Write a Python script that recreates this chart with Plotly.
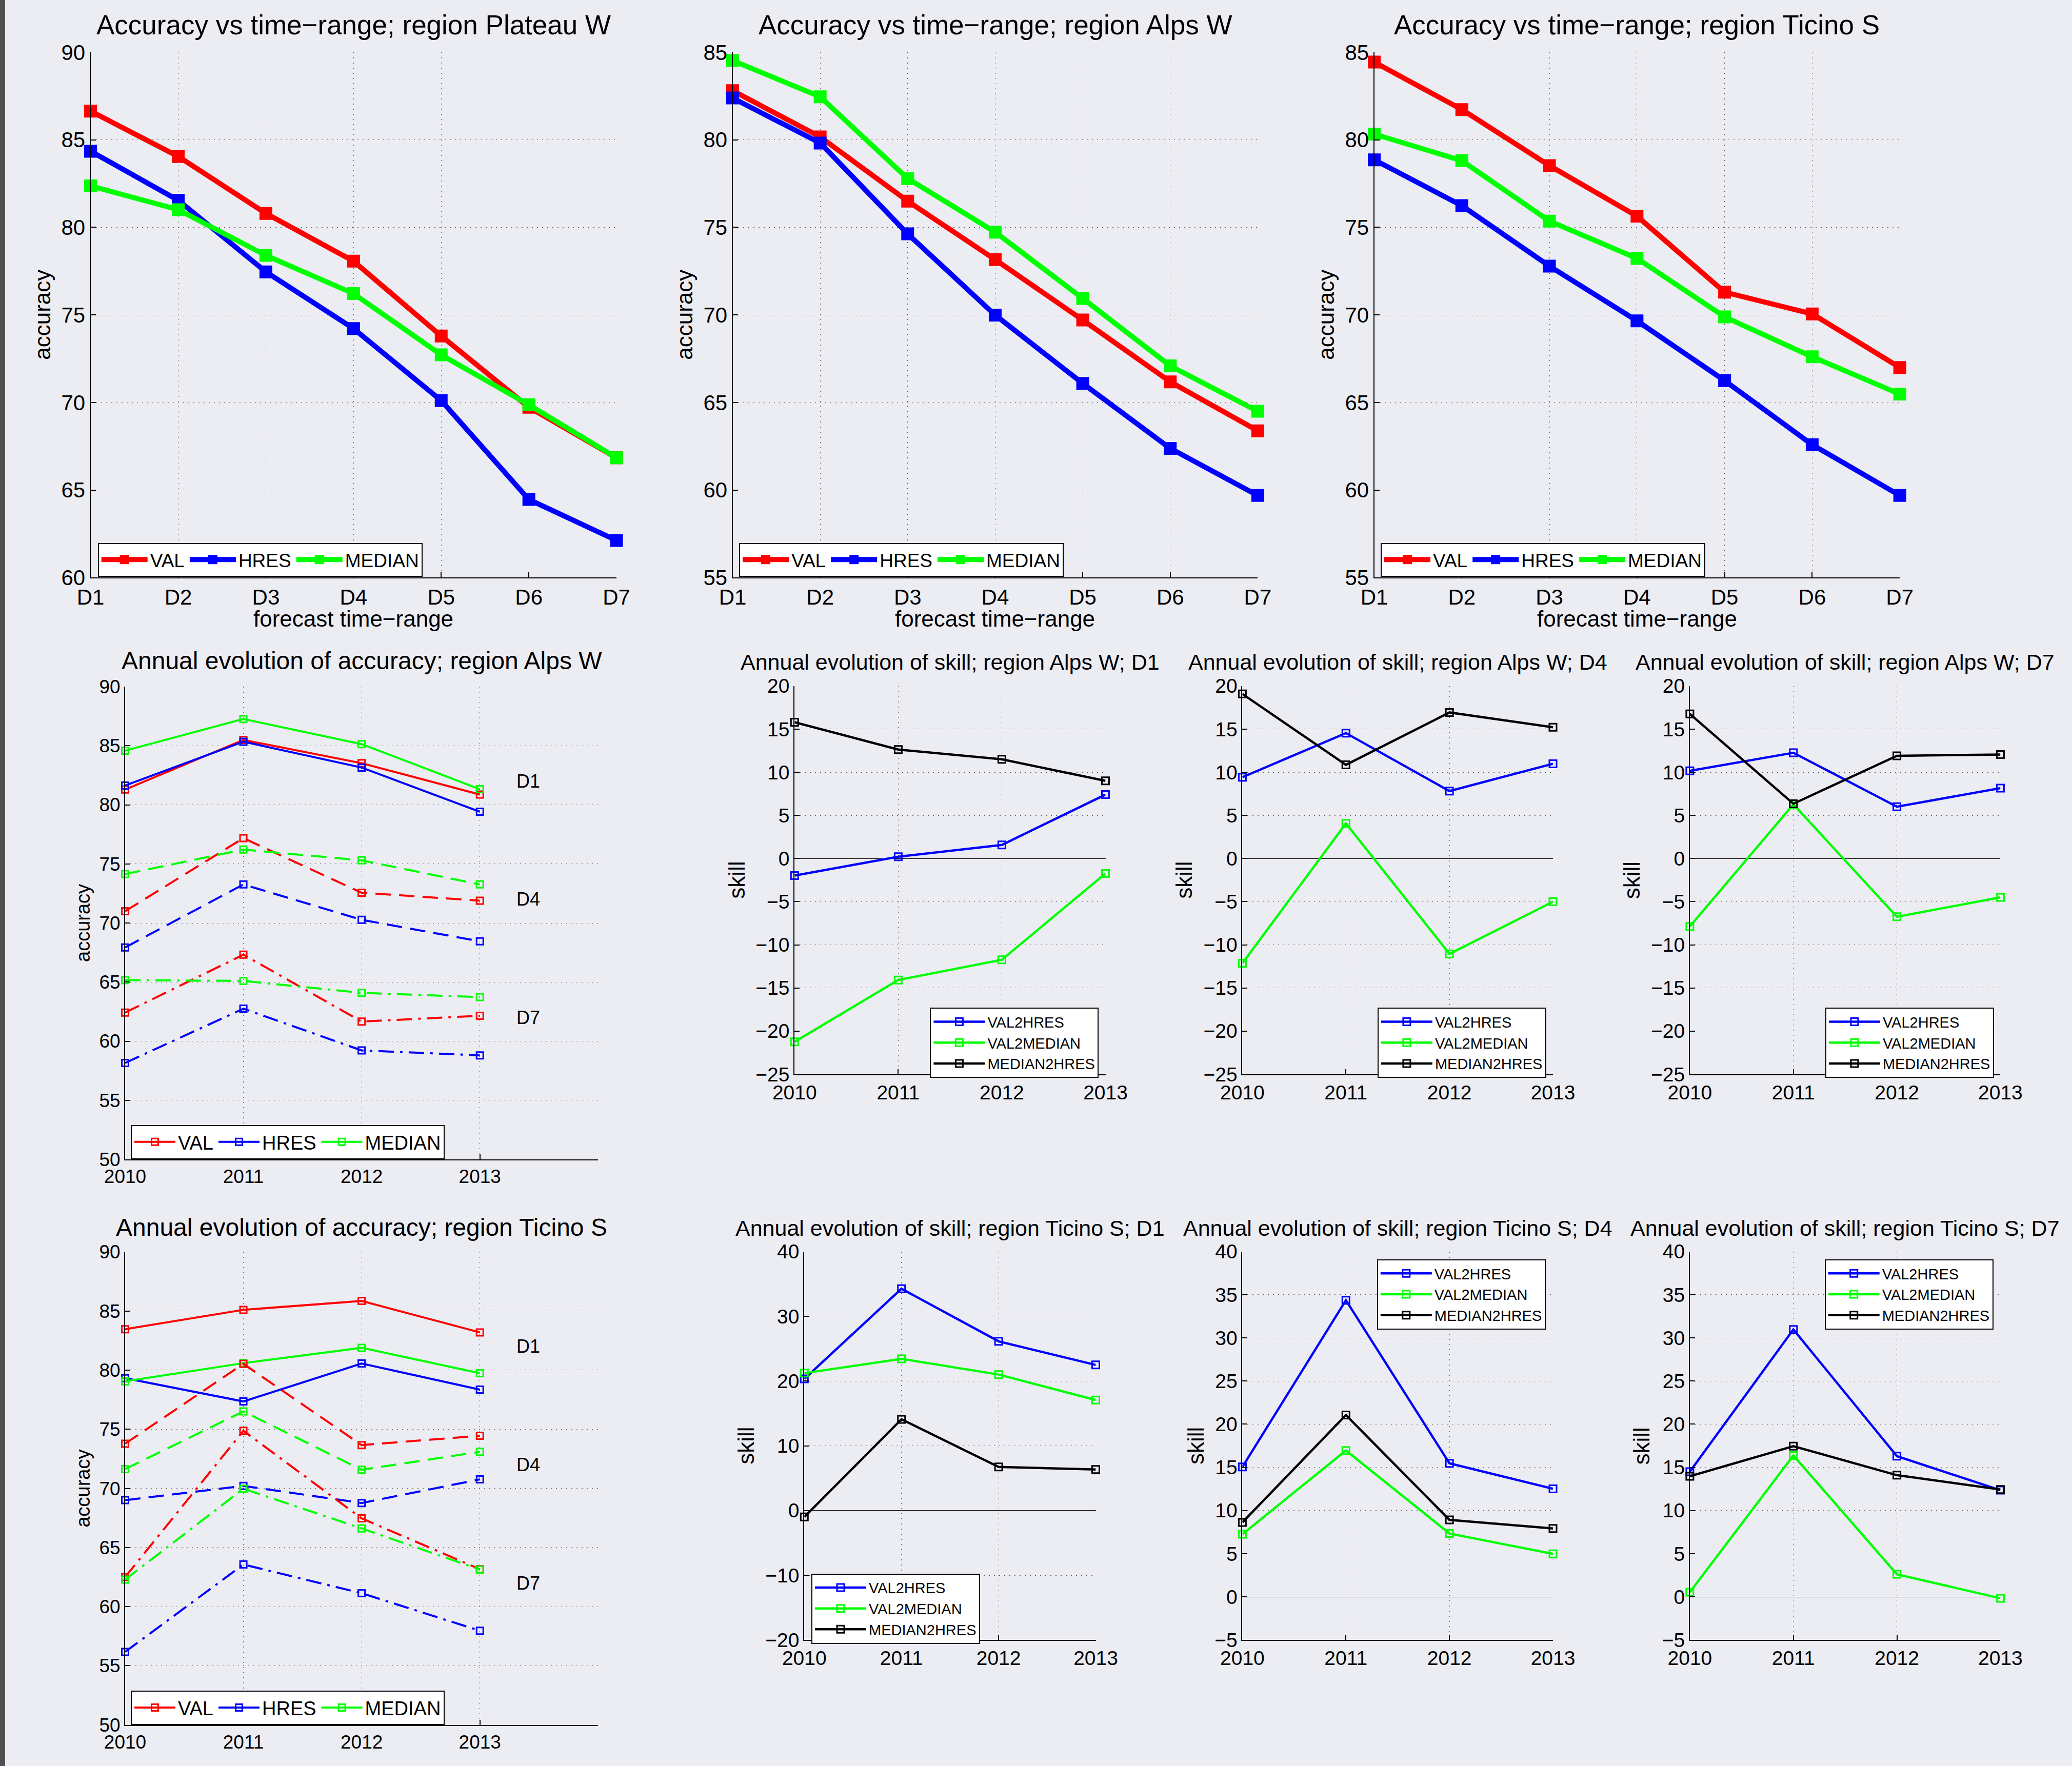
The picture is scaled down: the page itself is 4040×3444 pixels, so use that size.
import plotly.graph_objects as go

W, H = 4040, 3444
FONT = "Liberation Sans, Arial, Helvetica, sans-serif"
BG = "#ECECF3"
RED, BLUE, GREEN, BLACK = "#FF0000", "#0000FF", "#00FF00", "#000000"

# ---------------- data ----------------
days = ["D1", "D2", "D3", "D4", "D5", "D6", "D7"]
years = [2010, 2011, 2012, 2013]
acc_series = ["VAL", "HRES", "MEDIAN"]
skill_series = ["VAL2HRES", "VAL2MEDIAN", "MEDIAN2HRES"]

# accuracy vs time-range
plateau_val = [86.64, 84.05, 80.80, 78.07, 73.80, 69.73, 66.84]
plateau_hres = [84.35, 81.55, 77.46, 74.22, 70.11, 64.46, 62.12]
plateau_median = [82.37, 81.01, 78.40, 76.22, 72.72, 69.87, 66.84]

alpsw_val = [82.81, 80.17, 76.50, 73.16, 69.71, 66.18, 63.38]
alpsw_hres = [82.39, 79.82, 74.63, 69.99, 66.09, 62.38, 59.69]
alpsw_median = [84.53, 82.46, 77.79, 74.73, 70.94, 67.09, 64.50]

ticinos_val = [84.44, 81.73, 78.53, 75.64, 71.30, 70.06, 67.00]
ticinos_hres = [78.86, 76.24, 72.79, 69.66, 66.25, 62.59, 59.69]
ticinos_median = [80.33, 78.81, 75.36, 73.23, 69.89, 67.61, 65.48]

# annual accuracy, Alps W
alpsw_d1_val = [81.29, 85.49, 83.52, 80.87]
alpsw_d1_hres = [81.63, 85.34, 83.15, 79.41]
alpsw_d1_median = [84.58, 87.26, 85.13, 81.32]
alpsw_d4_val = [71.00, 77.18, 72.56, 71.89]
alpsw_d4_hres = [67.93, 73.26, 70.27, 68.45]
alpsw_d4_median = [74.14, 76.21, 75.30, 73.26]
alpsw_d7_val = [62.42, 67.32, 61.66, 62.15]
alpsw_d7_hres = [58.16, 62.75, 59.22, 58.80]
alpsw_d7_median = [65.16, 65.10, 64.09, 63.73]

# annual accuracy, Ticino S
ticinos_d1_val = [83.46, 85.10, 85.85, 83.19]
ticinos_d1_hres = [79.32, 77.35, 80.56, 78.35]
ticinos_d1_median = [79.05, 80.59, 81.89, 79.74]
ticinos_d4_val = [73.78, 80.53, 73.66, 74.45]
ticinos_d4_hres = [69.00, 70.21, 68.76, 70.76]
ticinos_d4_median = [71.63, 76.51, 71.57, 73.09]
ticinos_d7_val = [62.50, 74.87, 67.46, 63.16]
ticinos_d7_hres = [56.17, 63.56, 61.13, 57.96]
ticinos_d7_median = [62.28, 69.97, 66.61, 63.13]

# annual skill, Alps W
alpsw_skill_d1_val2hres = [-1.97, 0.21, 1.58, 7.41]
alpsw_skill_d1_val2median = [-21.25, -14.08, -11.73, -1.73]
alpsw_skill_d1_median2hres = [15.80, 12.63, 11.50, 9.01]
alpsw_skill_d4_val2hres = [9.42, 14.54, 7.82, 10.99]
alpsw_skill_d4_val2median = [-12.14, 4.07, -11.05, -5.01]
alpsw_skill_d4_median2hres = [19.08, 10.86, 16.93, 15.22]
alpsw_skill_d7_val2hres = [10.17, 12.26, 6.01, 8.16]
alpsw_skill_d7_val2median = [-7.87, 6.28, -6.75, -4.50]
alpsw_skill_d7_median2hres = [16.76, 6.35, 11.91, 12.05]

# annual skill, Ticino S
ticinos_skill_d1_val2hres = [20.33, 34.25, 26.13, 22.49]
ticinos_skill_d1_val2median = [21.22, 23.43, 21.00, 17.07]
ticinos_skill_d1_median2hres = [-0.99, 14.09, 6.74, 6.35]
ticinos_skill_d4_val2hres = [15.05, 34.36, 15.47, 12.52]
ticinos_skill_d4_val2median = [7.26, 16.96, 7.34, 4.98]
ticinos_skill_d4_median2hres = [8.63, 21.06, 8.92, 7.92]
ticinos_skill_d7_val2hres = [14.51, 30.97, 16.30, 12.36]
ticinos_skill_d7_val2median = [0.55, 16.38, 2.62, -0.16]
ticinos_skill_d7_median2hres = [13.97, 17.46, 14.10, 12.44]

# ---------------- layout geometry (px) ----------------
boxes = {
    1: (176.6, 1202.1, 102, 1126.4),
    2: (1428.5, 2452.4, 102, 1126.4),
    3: (2679.5, 3704.2, 102, 1126.4),
    4: (244, 1166.3, 1339, 2261),
    5: (1549.3, 2155.5, 1337.8, 2094.9),
    6: (2422.4, 3028, 1337.8, 2094.9),
    7: (3294.9, 3900.4, 1337.8, 2094.9),
    8: (244, 1166.3, 2441.4, 3363.7),
    9: (1568.3, 2136.5, 2440.7, 3198.4),
    10: (2422.4, 3028, 2440.7, 3198.4),
    11: (3294.9, 3900.4, 2440.7, 3198.4),
}


def px(x):
    return x / W


def py(y):
    return 1 - y / H


fig = go.Figure()
annotations = []


def axname(i, a):
    return f"{a}axis" if i == 1 else f"{a}axis{i}"


def ref(i, a):
    return a if i == 1 else f"{a}{i}"


GRID = dict(showgrid=True, gridcolor="rgba(40,40,40,0.75)", gridwidth=1, griddash="2px,8px",
            showline=True, linecolor="black", linewidth=2, mirror=False, automargin=False,
            ticks="inside", tickcolor="black", tickwidth=1.5, zeroline=False)


def setup_axes(i, xcfg, ycfg, tickfs):
    x0, x1, yt, yb = boxes[i]
    xd = dict(GRID, domain=[px(x0), px(x1)], anchor=ref(i, "y"),
              tickfont=dict(size=tickfs, color="black", family=FONT))
    xd.update(xcfg)
    yd = dict(GRID, domain=[py(yb), py(yt)], anchor=ref(i, "x"),
              tickfont=dict(size=tickfs, color="black", family=FONT))
    yd.update(ycfg)
    fig.update_layout(**{axname(i, "x"): xd, axname(i, "y"): yd})


def add_line(i, x, y, color, name, legend, show, width, msize, symbol, mlw, dash="solid"):
    fig.add_trace(go.Scatter(
        x=x, y=y, mode="lines+markers", name=name,
        line=dict(color=color, width=width, dash=dash),
        marker=dict(symbol=symbol, size=msize, color=color, line=dict(color=color, width=mlw)),
        xaxis=ref(i, "x"), yaxis=ref(i, "y"), legend=legend, showlegend=show,
        cliponaxis=False))


def title(i, text, bottom, size):
    x0, x1, yt, yb = boxes[i]
    annotations.append(dict(text=text, x=px((x0 + x1) / 2), y=py(bottom), xref="paper", yref="paper",
                            xanchor="center", yanchor="bottom", showarrow=False,
                            font=dict(size=size, color="black", family=FONT)))


def ylabel(i, text, xc, size):
    x0, x1, yt, yb = boxes[i]
    annotations.append(dict(text=text, x=px(xc), y=py((yt + yb) / 2), xref="paper", yref="paper",
                            xanchor="center", yanchor="middle", textangle=-90, showarrow=False,
                            font=dict(size=size, color="black", family=FONT)))


def legend_cfg(xl, yt, size, horizontal, itemwidth):
    d = dict(x=px(xl), y=py(yt), xanchor="left", yanchor="top", bgcolor="white",
             bordercolor="black", borderwidth=2, font=dict(size=size, color="black", family=FONT),
             tracegroupgap=0, itemwidth=itemwidth)
    if horizontal:
        d["orientation"] = "h"
    return d


legends = {}

# ---------- top row: accuracy vs time-range ----------
top = [
    (1, "Plateau W", plateau_val, plateau_hres, plateau_median, [60, 90], 190.7),
    (2, "Alps W", alpsw_val, alpsw_hres, alpsw_median, [55, 85], 1441),
    (3, "Ticino S", ticinos_val, ticinos_hres, ticinos_median, [55, 85], 2692),
]
for i, region, v, h, m, yr, lx in top:
    lg = "legend" if i == 1 else f"legend{i}"
    for y, c, n in zip([v, h, m], [RED, BLUE, GREEN], acc_series):
        add_line(i, days, y, c, n, lg, True, 10, 23, "square", 2)
    setup_axes(i, dict(type="category", categoryorder="array", categoryarray=days, range=[0, 6],
                       ticklen=10),
               dict(range=yr, dtick=5, ticklen=10), 42)
    legends[lg] = legend_cfg(lx, 1058.7, 37, True, 90)
    title(i, f"Accuracy vs time\u2212range; region {region}", 80, 53)
    x0, x1, yt, yb = boxes[i]
    ylabel(i, "accuracy", x0 - 94, 44)
    annotations.append(dict(text="forecast time\u2212range", x=px((x0 + x1) / 2), y=py(1179.7),
                            xref="paper", yref="paper", xanchor="center", yanchor="top",
                            showarrow=False, font=dict(size=44, color="black", family=FONT)))

# ---------- annual accuracy panels ----------
annual = [
    (4, "Alps W", [
        ("solid", alpsw_d1_val, alpsw_d1_hres, alpsw_d1_median),
        ("30px,16px", alpsw_d4_val, alpsw_d4_hres, alpsw_d4_median),
        ("30px,12px,5px,12px", alpsw_d7_val, alpsw_d7_hres, alpsw_d7_median),
    ], 1317, 2193.5),
    (8, "Ticino S", [
        ("solid", ticinos_d1_val, ticinos_d1_hres, ticinos_d1_median),
        ("30px,16px", ticinos_d4_val, ticinos_d4_hres, ticinos_d4_median),
        ("30px,12px,5px,12px", ticinos_d7_val, ticinos_d7_hres, ticinos_d7_median),
    ], 2422, 3296.8),
]
day_labels = ["D1", "D4", "D7"]
day_label_y = [82, 72, 62]
for i, region, groups, tb, ly in annual:
    lg = f"legend{i}"
    for k, (dash, v, h, m) in enumerate(groups):
        for y, c, n in zip([v, h, m], [RED, BLUE, GREEN], acc_series):
            add_line(i, years, y, c, n, lg, k == 0, 4, 13, "square-open", 3, dash)
    setup_axes(i, dict(range=[2010, 2014], tickvals=[2010, 2011, 2012, 2013, 2014],
                       ticktext=["2010", "2011", "2012", "2013", ""], ticklen=10),
               dict(range=[50, 90], dtick=5, ticklen=10), 37)
    legends[lg] = legend_cfg(255, ly, 38, True, 80)
    title(i, f"Annual evolution of accuracy; region {region}", tb, 48)
    ylabel(i, "accuracy", 162, 38)
    for t, yv in zip(day_labels, day_label_y):
        annotations.append(dict(text=t, x=2013.3, y=yv, xref=ref(i, "x"), yref=ref(i, "y"),
                                xanchor="left", yanchor="middle", showarrow=False,
                                font=dict(size=36, color="black", family=FONT)))

# ---------- skill panels ----------
skills = [
    (5, "Alps W", "D1", alpsw_skill_d1_val2hres, alpsw_skill_d1_val2median, alpsw_skill_d1_median2hres,
     [-25, 20], 5, (1813.4, 1965.2), 1317, -113),
    (6, "Alps W", "D4", alpsw_skill_d4_val2hres, alpsw_skill_d4_val2median, alpsw_skill_d4_median2hres,
     [-25, 20], 5, (2685.9, 1965.2), 1317, -114),
    (7, "Alps W", "D7", alpsw_skill_d7_val2hres, alpsw_skill_d7_val2median, alpsw_skill_d7_median2hres,
     [-25, 20], 5, (3558.9, 1965.2), 1317, -114),
    (9, "Ticino S", "D1", ticinos_skill_d1_val2hres, ticinos_skill_d1_val2median, ticinos_skill_d1_median2hres,
     [-20, 40], 10, (1582, 3068.6), 2421, -114),
    (10, "Ticino S", "D4", ticinos_skill_d4_val2hres, ticinos_skill_d4_val2median, ticinos_skill_d4_median2hres,
     [-5, 40], 5, (2684.8, 2456), 2421, -91),
    (11, "Ticino S", "D7", ticinos_skill_d7_val2hres, ticinos_skill_d7_val2median, ticinos_skill_d7_median2hres,
     [-5, 40], 5, (3557.7, 2456), 2421, -94),
]
for i, region, d, a, b, c_, yr, dt, (lx, lyt), tb, lab in skills:
    lg = f"legend{i}"
    for y, c, n in zip([a, b, c_], [BLUE, GREEN, BLACK], skill_series):
        add_line(i, years, y, c, n, lg, True, 4.5, 14, "square-open", 3)
    setup_axes(i, dict(range=[2010, 2013], tickvals=years, ticklen=10),
               dict(range=yr, dtick=dt, ticklen=10, zeroline=True, zerolinecolor="black",
                    zerolinewidth=1.2), 39)
    legends[lg] = legend_cfg(lx, lyt, 29, False, 100)
    title(i, f"Annual evolution of skill; region {region}; {d}", tb, 43)
    x0 = boxes[i][0]
    ylabel(i, "skill", x0 + lab, 44)

fig.update_layout(
    width=W, height=H, autosize=False,
    margin=dict(l=0, r=0, t=0, b=0, pad=0, autoexpand=False),
    paper_bgcolor=BG, plot_bgcolor=BG,
    font=dict(family=FONT, color="black"),
    annotations=annotations,
    shapes=[dict(type="rect", xref="paper", yref="paper", x0=0, x1=px(10), y0=0, y1=1,
                 fillcolor="#505050", line=dict(width=0), layer="above")],
    **legends,
)

fig.write_html(
    "out.html",
    config={"displayModeBar": False},
    post_script="document.body.style.margin='0';document.body.style.overflow='hidden';",
)
